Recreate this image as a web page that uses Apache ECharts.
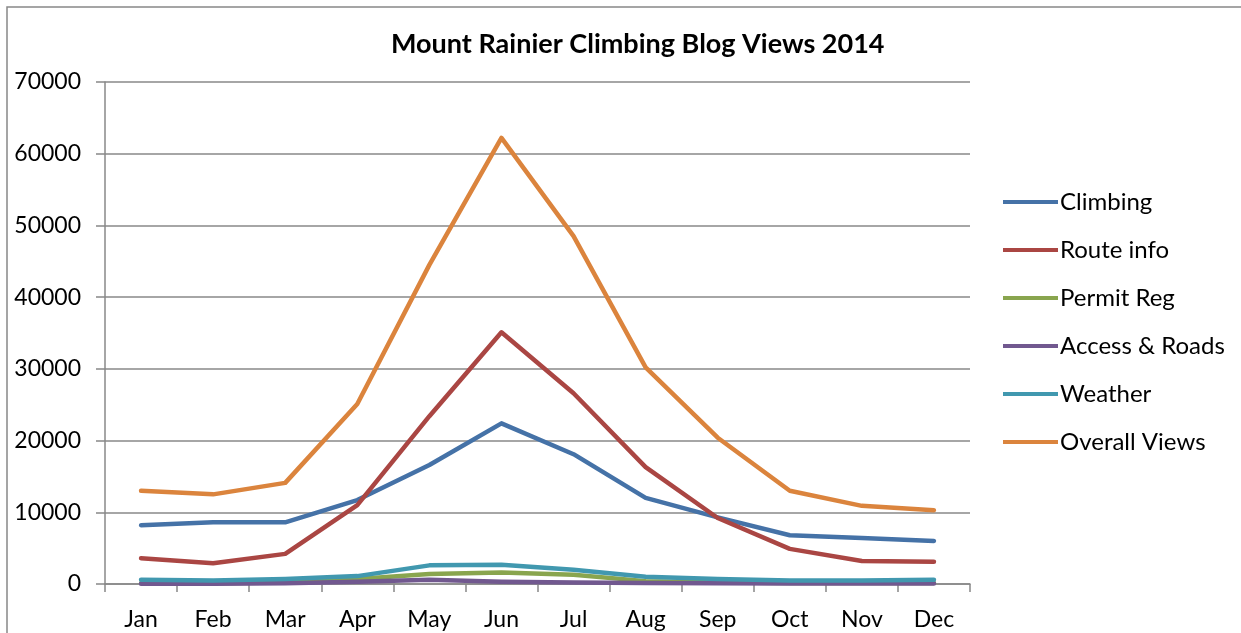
<!DOCTYPE html>
<html>
<head>
<meta charset="utf-8">
<script src="https://cdn.jsdelivr.net/npm/echarts@6/dist/echarts.min.js"></script>
<style>
  html, body { margin: 0; padding: 0; background: #fff; }
  #chart { width: 1241px; height: 633px; }
</style>
</head>
<body>
<div id="chart"></div>
<script>
var months = ['Jan', 'Feb', 'Mar', 'Apr', 'May', 'Jun', 'Jul', 'Aug', 'Sep', 'Oct', 'Nov', 'Dec'];
var climbing = [8200, 8600, 8600, 11700, 16600, 22400, 18100, 12000, 9300, 6800, 6400, 6000];
var routeInfo = [3600, 2900, 4200, 11000, 23400, 35100, 26600, 16300, 9200, 4900, 3200, 3100];
var permitReg = [100, 100, 200, 700, 1400, 1600, 1300, 400, 200, 150, 150, 150];
var accessRoads = [50, 50, 100, 300, 600, 300, 200, 150, 100, 80, 80, 80];
var weather = [600, 500, 700, 1100, 2600, 2700, 2000, 1000, 700, 500, 500, 600];
var overall = [13000, 12500, 14100, 25100, 44500, 62200, 48500, 30200, 20400, 13000, 10900, 10300];

var seriesNames = ['Climbing', 'Route info', 'Permit Reg', 'Access & Roads', 'Weather', 'Overall Views'];
var seriesData = [climbing, routeInfo, permitReg, accessRoads, weather, overall];
var colors = ['#4572A7', '#AA4643', '#89A54E', '#71588F', '#4198AF', '#DB843D'];

function initChart() {
  var myChart = echarts.init(document.getElementById('chart'));
  var font = 'Lato, "Open Sans", sans-serif';
  var option = {
    animation: false,
    color: colors,
    title: {
      text: 'Mount Rainier Climbing Blog Views 2014',
      left: 386,
      top: 26,
      textStyle: { fontFamily: font, fontWeight: 'bold', fontSize: 27, color: '#000' }
    },
    legend: {
      orient: 'vertical',
      left: 998,
      top: 183,
      icon: 'rect',
      itemWidth: 55,
      itemHeight: 4,
      itemGap: 20,
      data: seriesNames,
      textStyle: { fontFamily: font, fontSize: 24, color: '#000', lineHeight: 28, padding: [0, 0, 0, -3] }
    },
    grid: { left: 105, top: 82, right: 271, bottom: 49 },
    xAxis: {
      type: 'category',
      data: months,
      boundaryGap: true,
      axisLine: { lineStyle: { color: '#888', width: 1.5 } },
      axisTick: { show: true, length: 8, lineStyle: { color: '#888', width: 1.5 } },
      axisLabel: { fontFamily: font, fontSize: 23, color: '#000', margin: 24 },
      splitLine: { show: false }
    },
    yAxis: {
      type: 'value',
      min: 0,
      max: 70000,
      interval: 10000,
      axisLine: { show: true, lineStyle: { color: '#888', width: 1.5 } },
      axisTick: { show: true, length: 9, lineStyle: { color: '#888', width: 1.5 } },
      axisLabel: { fontFamily: font, fontSize: 23, color: '#000', margin: 24, formatter: function (v) { return String(v); } },
      splitLine: { lineStyle: { color: '#888', width: 1.5 } }
    },
    graphic: [{
      type: 'rect',
      shape: { x: 7, y: 7, width: 1240, height: 640 },
      style: { fill: 'none', stroke: '#888', lineWidth: 1.5 },
      silent: true
    }],
    series: seriesNames.map(function (name, i) {
      return {
        name: name,
        type: 'line',
        data: seriesData[i],
        symbol: 'none',
        lineStyle: { width: 4.5, cap: 'round', join: 'round' }
      };
    })
  };
  myChart.setOption(option);
}

document.addEventListener('DOMContentLoaded', function () {
  initChart();
});
</script>
</body>
</html>
